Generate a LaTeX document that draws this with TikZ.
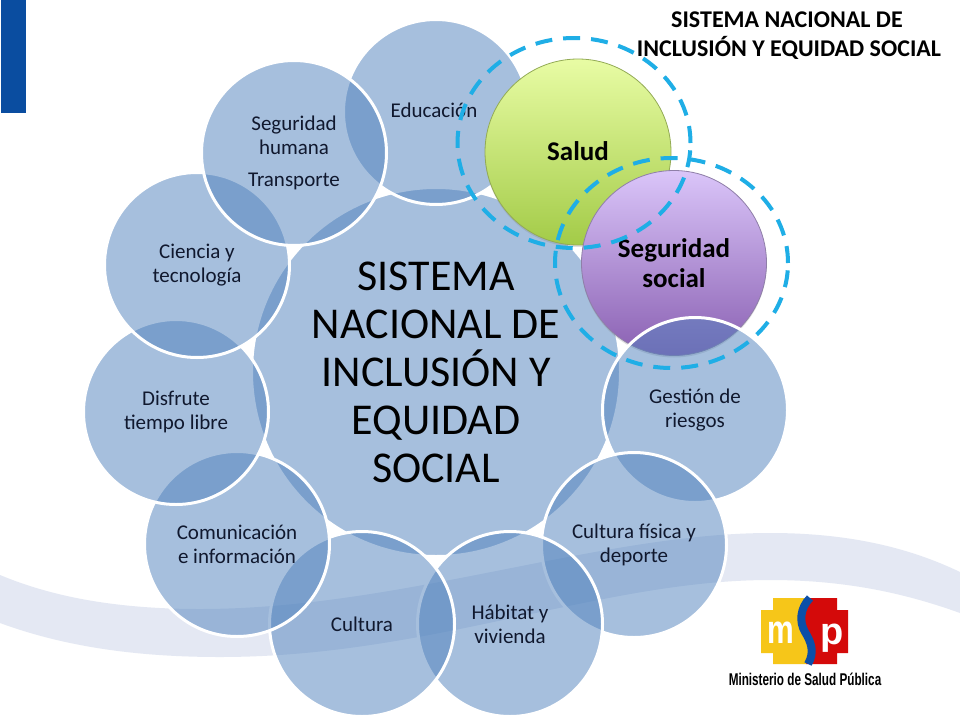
\documentclass[tikz,border=0pt]{standalone}
\usepackage{fontspec}
\setmainfont{Carlito}
\newfontfamily\logofont{Liberation Sans}
\usetikzlibrary{shapes.geometric,shadows}
\definecolor{satblue}{HTML}{4F81BD}
\definecolor{bandblue}{HTML}{E4E8F3}
\definecolor{dashblue}{HTML}{1FAEE6}
\definecolor{topblue}{HTML}{0A4DA0}
\definecolor{mspyellow}{HTML}{F6C619}
\definecolor{mspred}{HTML}{D40A0A}
\definecolor{mspblue}{HTML}{0B4FA8}
\definecolor{saludtop}{HTML}{E8FCA4}
\definecolor{saludmid}{HTML}{D3EE84}
\definecolor{saludbot}{HTML}{A3CB48}
\definecolor{saludedge}{HTML}{93AB55}
\definecolor{socialtop}{HTML}{DAC5F9}
\definecolor{socialmid}{HTML}{B99CE0}
\definecolor{socialbot}{HTML}{8A60B2}
\definecolor{socialedge}{HTML}{8F7FA8}
\definecolor{sattext}{HTML}{10182E}
\tikzset{
  satcircle/.style={circle,inner sep=0pt,outer sep=0pt,minimum size=185pt,align=center,
    fill=satblue,fill opacity=0.5,text opacity=1,draw=white,draw opacity=1,line width=3pt,
    text=sattext,font=\fontsize{21}{24}\selectfont},
  bigcircle/.style={satcircle,minimum size=369pt,text=black,font=\fontsize{44}{48}\selectfont},
  gelcircle/.style={circle,inner sep=0pt,outer sep=0pt,align=center,draw=#1,line width=0.8pt,
    drop shadow={shadow xshift=0pt,shadow yshift=-2pt,opacity=0.25},
    text=black,font=\bfseries\fontsize{27}{30}\selectfont},
  dashring/.style={ellipse,inner sep=0pt,outer sep=0pt,minimum width=233pt,minimum height=210pt,
    draw=dashblue,line width=4pt,dash pattern=on 17pt off 11pt},
  titletext/.style={inner sep=0pt,text=black,font=\bfseries\fontsize{24}{28}\selectfont}
}
\begin{document}
\begin{tikzpicture}[x=1pt,y=-1pt]
\useasboundingbox (0,0) rectangle (960,720);
% background
\fill[white] (0,0) rectangle (960,720);
\fill[bandblue] (0,575) .. controls (55,598) and (120,609) .. (200,609)
  .. controls (400,609) and (600,533) .. (770,533)
  .. controls (850,533) and (910,548) .. (960,572)
  -- (960,613) .. controls (910,595) and (850,580) .. (770,580)
  .. controls (600,580) and (430,657) .. (220,657)
  .. controls (130,657) and (60,645) .. (0,623) -- cycle;
\fill[topblue] (1,0) rectangle (26,113);
% circles
\node[bigcircle] (sistema) at (436,372) {SISTEMA\\NACIONAL DE\\INCLUSIÓN Y\\EQUIDAD\\SOCIAL};
\node[satcircle] (educacion) at (436,112) {\raisebox{3pt}{Educación}\hspace{4pt}};
\node[gelcircle=saludedge,minimum size=186pt,top color=saludtop,
  middle color=saludmid,bottom color=saludbot] (salud) at (578,152) {\raisebox{2pt}{Salud}};
\node[gelcircle=socialedge,minimum size=185pt,top color=socialtop,
  middle color=socialmid,bottom color=socialbot] (segsocial) at (674,263) {Seguridad\\social};
\node[satcircle] (gestion) at (695,410) {Gestión de\\riesgos};
\node[satcircle] (fisica) at (634,545) {Cultura física y\\deporte};
\node[satcircle] (habitat) at (510,624) {Hábitat y\\vivienda};
\node[satcircle] (cultura) at (362,624) {Cultura};
\node[satcircle] (comunicacion) at (237,544) {Comunicación\\e información};
\node[satcircle] (disfrute) at (176,412) {Disfrute\\tiempo libre};
\node[satcircle] (ciencia) at (197,265) {Ciencia y\\tecnología};
\node[satcircle] (humana) at (294,153) {Seguridad\\humana\\[8pt]Transporte};
% dashed rings
\node[dashring] (ringsalud) at (574,143) {};
\node[dashring] (ringsocial) at (671.5,263) {};
% title
\node[titletext] (titulouno) at (787,20) {SISTEMA NACIONAL DE};
\node[titletext] (titulodos) at (789,48) {INCLUSIÓN Y EQUIDAD SOCIAL};
% logo
\fill[mspyellow] (808,598) -- (773,598) -- (773,610) -- (761,610) -- (761,653) -- (773,653) -- (773,664) -- (806,664)
  .. controls (813,652) and (809,642) .. (803,632) .. controls (797,622) and (798,608) .. (808,598) -- cycle;
\fill[mspred] (808,598) -- (837,598) -- (837,610) -- (848,610) -- (848,653) -- (837,653) -- (837,664) -- (806,664)
  .. controls (813,652) and (809,642) .. (803,632) .. controls (797,622) and (798,608) .. (808,598) -- cycle;
\draw[mspblue,line width=8pt] (810,598) .. controls (800,608) and (799,622) .. (805,632) .. controls (811,642) and (815,652) .. (808,664);
\node[inner sep=0pt,text=white,xscale=0.75,font=\logofont\bfseries\fontsize{40}{40}\selectfont] (logom) at (781,633) {m};
\node[inner sep=0pt,text=white,font=\logofont\bfseries\fontsize{38}{38}\selectfont] (logop) at (832,638) {p};
\node[inner sep=0pt,text=black,xscale=0.69,font=\logofont\bfseries\fontsize{17}{17}\selectfont] (logotexto) at (805,679) {Ministerio de Salud Pública};
\end{tikzpicture}
\end{document}
